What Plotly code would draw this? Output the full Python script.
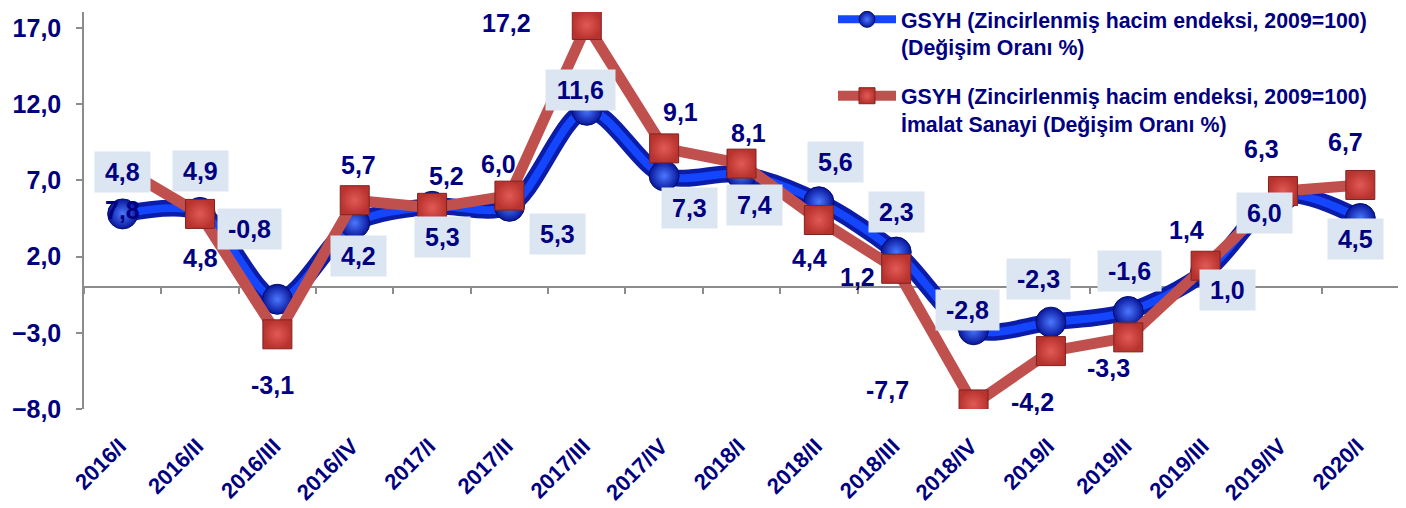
import plotly.graph_objects as go

# ---------------- data ----------------
categories = ["2016/I", "2016/II", "2016/III", "2016/IV", "2017/I", "2017/II", "2017/III",
              "2017/IV", "2018/I", "2018/II", "2018/III", "2018/IV", "2019/I", "2019/II",
              "2019/III", "2019/IV", "2020/I"]
gsyh = [4.8, 4.9, -0.8, 4.2, 5.3, 5.3, 11.6, 7.3, 7.4, 5.6, 2.3, -2.8, -2.3, -1.6, 1.0, 6.0, 4.5]
imalat = [7.8, 4.8, -3.1, 5.7, 5.2, 6.0, 17.2, 9.1, 8.1, 4.4, 1.2, -7.7, -4.2, -3.3, 1.4, 6.3, 6.7]
y_ticks = [-8, -3, 2, 7, 12, 17]
name_gsyh = "GSYH (Zincirlenmiş hacim endeksi, 2009=100)<br>(Değişim Oranı %)"
name_imalat = "GSYH (Zincirlenmiş hacim endeksi, 2009=100)<br>İmalat Sanayi (Değişim Oranı %)"

# ---------------- style ----------------
FONT = "Liberation Sans, Arial, sans-serif"
NAVY = "#000080"
GRID_GREY = "#8C8C8C"
LABEL_BG = "#DCE6F2"
LABEL_SIZE = 25
Y_MIN, Y_MAX = -8, 18.05
PAGE_OFFSET = 8          # default body margin of the html page
FIG_W, FIG_H = 1406 - PAGE_OFFSET, 508 - PAGE_OFFSET
PLOT_H = 397

# label offsets in pixels (dx right, dy down) from the data point
gsyh_offsets = [(0, -42), (0, -41), (-28, -70), (4, 33), (10, 31), (48, 28), (-6, -20),
                (25, 32), (13, 31), (17, -40), (0, -40), (-6, -20), (-12, -43), (1, -40),
                (22, 18), (-18, 17), (-5, 20)]
imalat_offsets = [(0, 42), (0, 44), (-5, 51), (4, -35), (14, -32), (-11, -32), (-80, -2),
                  (16, -36), (7, -31), (-9, 38), (-39, 8), (-86, -14), (-18, 51), (-20, 31),
                  (-19, -36), (-21, -42), (-15, -43)]

CHAR_W = {"-": 0.333, ",": 0.278}


def fmt(v):
    return f"{v:.1f}".replace(".", ",")


def text_width(s):
    return sum(CHAR_W.get(c, 0.556) for c in s) * LABEL_SIZE


fig = go.Figure()

# blue tube (outer dark part)
fig.add_trace(go.Scatter(
    x=categories, y=gsyh, mode="lines",
    line=dict(color="#0A1CA8", width=17, shape="spline", smoothing=0.9),
    showlegend=False, hoverinfo="skip"))
# blue main series
fig.add_trace(go.Scatter(
    x=categories, y=gsyh, mode="lines+markers", name=name_gsyh, legendgroup="a",
    line=dict(color="#1446FF", width=8, shape="spline", smoothing=0.9),
    marker=dict(symbol="circle", size=30, color="#08159A",
                gradient=dict(type="radial", color="#4A78FF"),
                line=dict(color="#000E66", width=1)),
    hoverinfo="skip"))
# red series
fig.add_trace(go.Scatter(
    x=categories, y=imalat, mode="lines+markers", name=name_imalat, legendgroup="b",
    line=dict(color="#C0504D", width=11),
    marker=dict(symbol="square", size=29, color="#B8322E",
                gradient=dict(type="radial", color="#E25A56"),
                line=dict(color="#7F2320", width=1)),
    hoverinfo="skip"))
# invisible trace carrying the bottom category label axis
fig.add_trace(go.Scatter(
    x=categories, y=gsyh, xaxis="x2", mode="lines", line=dict(width=0),
    opacity=0, showlegend=False, hoverinfo="skip"))

annotations = []
for c, v, (dx, dy) in zip(categories, gsyh, gsyh_offsets):
    t = fmt(v)
    annotations.append(dict(
        x=c, y=v, xref="x", yref="y", text=t, showarrow=False,
        xshift=dx, yshift=-dy, bgcolor=LABEL_BG, borderpad=6,
        width=text_width(t) + 8, align="center",
        font=dict(family=FONT, size=LABEL_SIZE, color=NAVY, weight="bold")))
for c, v, (dx, dy) in zip(categories, imalat, imalat_offsets):
    t = fmt(v)
    annotations.append(dict(
        x=c, y=v, xref="x", yref="y", text=t, showarrow=False,
        xshift=dx, yshift=-dy,
        font=dict(family=FONT, size=LABEL_SIZE, color=NAVY, weight="bold")))

zero_pos = (0 - Y_MIN) / (Y_MAX - Y_MIN)

fig.update_layout(
    width=FIG_W, height=FIG_H,
    margin=dict(l=84 - PAGE_OFFSET, r=7, t=12 - PAGE_OFFSET, b=99, autoexpand=False),
    paper_bgcolor="white", plot_bgcolor="white",
    separators=",.",
    font=dict(family=FONT, color=NAVY),
    xaxis=dict(
        type="category", range=[-0.5, len(categories) - 0.5],
        anchor="free", position=zero_pos,
        showline=True, linecolor=GRID_GREY, linewidth=1.5,
        ticks="outside", tickson="boundaries", ticklen=6, tickcolor=GRID_GREY, tickwidth=1.5,
        showticklabels=False, showgrid=False, zeroline=False, layer="below traces"),
    xaxis2=dict(
        type="category", overlaying="x", matches="x", anchor="y", side="bottom",
        showline=False, ticks="", showgrid=False, zeroline=False,
        tickangle=-45, ticklabelstandoff=19, ticklabelshift=-3,
        tickfont=dict(family=FONT, size=22, color=NAVY, weight="bold")),
    yaxis=dict(
        range=[Y_MIN, Y_MAX], tickvals=y_ticks, tickformat=".1f",
        showline=True, linecolor=GRID_GREY, linewidth=1.5,
        ticks="outside", ticklen=6, tickcolor=GRID_GREY, tickwidth=1.5,
        ticklabelstandoff=10,
        showgrid=False, zeroline=False,
        tickfont=dict(family=FONT, size=25, color=NAVY, weight="bold")),
    legend=dict(
        x=(833 - 84) / 1315, y=1 + 13 / PLOT_H, xanchor="left", yanchor="top",
        bgcolor="rgba(0,0,0,0)", itemwidth=58, valign="top",
        tracegroupgap=18, traceorder="grouped",
        font=dict(family=FONT, size=21.3, color=NAVY, weight="bold")),
    annotations=annotations,
    showlegend=True,
)

fig.write_html("out.html")
